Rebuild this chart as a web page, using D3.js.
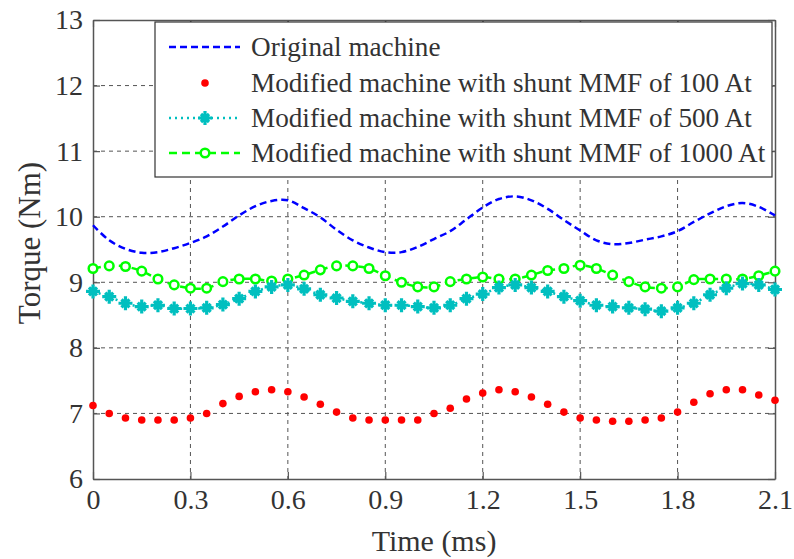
<!DOCTYPE html>
<html>
<head>
<meta charset="utf-8">
<script src="https://cdn.jsdelivr.net/npm/d3@7/dist/d3.min.js"></script>
<style>
  html, body { margin: 0; padding: 0; background: #fff; }
  svg { display: block; }
  text { font-family: "Liberation Serif", "Times New Roman", serif; fill: #333; }
</style>
</head>
<body>
<svg id="chart" width="794" height="559"></svg>
<script>
// Time samples (ms), one every 0.05 ms
const time = d3.range(0, 43).map(i => +(i * 0.05).toFixed(2));

// Torque (Nm) for each configuration
const original = [9.87, 9.64, 9.51, 9.45, 9.46, 9.52, 9.60, 9.70, 9.85, 10.02,
  10.16, 10.24, 10.25, 10.13, 9.99, 9.80, 9.64, 9.53, 9.46, 9.46,
  9.54, 9.66, 9.78, 9.96, 10.14, 10.27, 10.31, 10.25, 10.12, 9.95,
  9.79, 9.64, 9.58, 9.60, 9.65, 9.70, 9.78, 9.92, 10.05, 10.16,
  10.21, 10.15, 10.02];
const shunt100 = [7.12, 7.00, 6.93, 6.90, 6.90, 6.90, 6.93, 7.00, 7.15, 7.26,
  7.33, 7.36, 7.33, 7.25, 7.14, 7.02, 6.93, 6.90, 6.90, 6.90,
  6.90, 7.00, 7.08, 7.22, 7.31, 7.36, 7.33, 7.25, 7.14, 7.02,
  6.93, 6.90, 6.88, 6.88, 6.90, 6.93, 7.02, 7.17, 7.30, 7.36,
  7.36, 7.28, 7.20];
const shunt500 = [8.86, 8.78, 8.68, 8.63, 8.65, 8.60, 8.60, 8.61, 8.66, 8.75,
  8.86, 8.93, 8.96, 8.90, 8.81, 8.76, 8.71, 8.68, 8.65, 8.65,
  8.63, 8.61, 8.65, 8.75, 8.82, 8.92, 8.96, 8.92, 8.86, 8.78,
  8.72, 8.65, 8.63, 8.61, 8.59, 8.56, 8.61, 8.68, 8.81, 8.91,
  8.98, 8.96, 8.89];
const shunt1000 = [9.21, 9.25, 9.24, 9.17, 9.05, 8.96, 8.91, 8.91, 9.01, 9.05,
  9.05, 9.02, 9.05, 9.11, 9.19, 9.25, 9.25, 9.21, 9.10, 9.00,
  8.93, 8.93, 9.01, 9.05, 9.08, 9.05, 9.05, 9.11, 9.18, 9.21,
  9.26, 9.21, 9.11, 9.01, 8.93, 8.91, 8.93, 9.04, 9.05, 9.05,
  9.05, 9.10, 9.17];

const xTicks = [0, 0.3, 0.6, 0.9, 1.2, 1.5, 1.8, 2.1];
const yTicks = [6, 7, 8, 9, 10, 11, 12, 13];
const legendLabels = [
  "Original machine",
  "Modified machine with shunt MMF of 100 At",
  "Modified machine with shunt MMF of 500 At",
  "Modified machine with shunt MMF of 1000 At"
];

const svg = d3.select("#chart");
const plot = { left: 93, right: 775, top: 20, bottom: 479 };

const x = d3.scaleLinear().domain([0, 2.1]).range([plot.left, plot.right]);
const y = d3.scaleLinear().domain([6, 13]).range([plot.bottom, plot.top]);

// Dashed grid
const grid = svg.append("g").attr("stroke", "#555").attr("stroke-width", 1)
  .attr("stroke-dasharray", "4,4");
grid.selectAll("line.v").data(xTicks.slice(1, -1)).join("line")
  .attr("x1", d => x(d)).attr("x2", d => x(d))
  .attr("y1", plot.top).attr("y2", plot.bottom);
grid.selectAll("line.h").data(yTicks.slice(1, -1)).join("line")
  .attr("y1", d => y(d)).attr("y2", d => y(d))
  .attr("x1", plot.left).attr("x2", plot.right);

// Axes (ticks pointing inward, box closed by mirrored axes)
const fmtX = d => d === 0 ? "0" : d3.format(".1f")(d);
const fmtY = d3.format("d");
const axisStyle = g => {
  g.select(".domain").attr("stroke", "#555").attr("stroke-width", 1.5);
  g.selectAll(".tick line").attr("stroke", "#555").attr("stroke-width", 1.2);
  g.selectAll("text").attr("font-family", "Liberation Serif").attr("font-size", 28).attr("fill", "#3a3a3a");
};
svg.append("g").attr("transform", `translate(0,${plot.bottom})`)
  .call(d3.axisBottom(x).tickValues(xTicks).tickFormat(fmtX).tickSizeInner(-7).tickSizeOuter(0).tickPadding(10))
  .call(axisStyle);
svg.append("g").attr("transform", `translate(0,${plot.top})`)
  .call(d3.axisTop(x).tickValues(xTicks).tickFormat("").tickSizeInner(-7).tickSizeOuter(0))
  .call(axisStyle);
svg.append("g").attr("transform", `translate(${plot.left},0)`)
  .call(d3.axisLeft(y).tickValues(yTicks).tickFormat(fmtY).tickSizeInner(-7).tickSizeOuter(0).tickPadding(10))
  .call(axisStyle);
svg.append("g").attr("transform", `translate(${plot.right},0)`)
  .call(d3.axisRight(y).tickValues(yTicks).tickFormat("").tickSizeInner(-7).tickSizeOuter(0))
  .call(axisStyle);

// Axis titles
svg.append("text").attr("x", (plot.left + plot.right) / 2).attr("y", 551)
  .attr("text-anchor", "middle").attr("font-size", 30).attr("fill", "#3a3a3a").text("Time (ms)");
svg.append("text").attr("transform", "translate(40,243) rotate(-90)")
  .attr("text-anchor", "middle").attr("font-size", 31).attr("fill", "#3a3a3a").text("Torque (Nm)");

const pts = vals => time.map((t, i) => [t, vals[i]]);
const line = d3.line().x(d => x(d[0])).y(d => y(d[1])).curve(d3.curveCatmullRom.alpha(0.5));

const C = { blue: "#0000ff", red: "#ff0000", cyan: "#00bfbf", green: "#00ff00" };

// Marker shapes
const starPath = "M-7,0H7M0,-7V7M-4,-4L4,4M-4,4L4,-4";
function star(g, cx, cy) {
  g.append("path").attr("d", starPath).attr("transform", `translate(${cx},${cy})`)
    .attr("stroke", C.cyan).attr("stroke-width", 3.2).attr("fill", "none");
}

const plotG = svg.append("g");

// Original machine: dashed blue
plotG.append("path").datum(pts(original)).attr("d", line)
  .attr("fill", "none").attr("stroke", C.blue).attr("stroke-width", 2.5)
  .attr("stroke-dasharray", "7,4");

// 1000 At: dashed green with circles
plotG.append("path").datum(pts(shunt1000)).attr("d", line)
  .attr("fill", "none").attr("stroke", C.green).attr("stroke-width", 2.5)
  .attr("stroke-dasharray", "8,5");
plotG.selectAll("circle.g").data(pts(shunt1000)).join("circle")
  .attr("cx", d => x(d[0])).attr("cy", d => y(d[1])).attr("r", 4.3)
  .attr("fill", "#fff").attr("stroke", C.green).attr("stroke-width", 2.5);

// 500 At: dotted cyan with stars
plotG.append("path").datum(pts(shunt500)).attr("d", line)
  .attr("fill", "none").attr("stroke", C.cyan).attr("stroke-width", 2.5)
  .attr("stroke-dasharray", "2,4");
const starG = plotG.append("g");
pts(shunt500).forEach(d => star(starG, x(d[0]), y(d[1])));

// 100 At: red dots only
plotG.selectAll("circle.r").data(pts(shunt100)).join("circle")
  .attr("cx", d => x(d[0])).attr("cy", d => y(d[1])).attr("r", 3.8)
  .attr("fill", C.red);

// Legend
const lg = svg.append("g");
lg.append("rect").attr("x", 155).attr("y", 22).attr("width", 617).attr("height", 155)
  .attr("fill", "#fff").attr("stroke", "#333").attr("stroke-width", 1.2);
const rowY = [47, 83, 118, 153];
const sx0 = 169, sx1 = 240, smid = 205;
lg.append("line").attr("x1", sx0).attr("x2", sx1).attr("y1", rowY[0]).attr("y2", rowY[0])
  .attr("stroke", C.blue).attr("stroke-width", 2.5).attr("stroke-dasharray", "7,4");
lg.append("circle").attr("cx", smid).attr("cy", rowY[1]).attr("r", 3.8).attr("fill", C.red);
lg.append("line").attr("x1", sx0).attr("x2", sx1).attr("y1", rowY[2]).attr("y2", rowY[2])
  .attr("stroke", C.cyan).attr("stroke-width", 2.5).attr("stroke-dasharray", "2,4");
star(lg, smid, rowY[2]);
lg.append("line").attr("x1", sx0).attr("x2", sx1).attr("y1", rowY[3]).attr("y2", rowY[3])
  .attr("stroke", C.green).attr("stroke-width", 2.5).attr("stroke-dasharray", "8,5");
lg.append("circle").attr("cx", smid).attr("cy", rowY[3]).attr("r", 4.3)
  .attr("fill", "#fff").attr("stroke", C.green).attr("stroke-width", 2.5);
lg.selectAll("text").data(legendLabels).join("text")
  .attr("x", 251).attr("y", (d, i) => rowY[i] + 9)
  .attr("font-size", 27.2).attr("fill", "#111").text(d => d);
</script>
</body>
</html>
